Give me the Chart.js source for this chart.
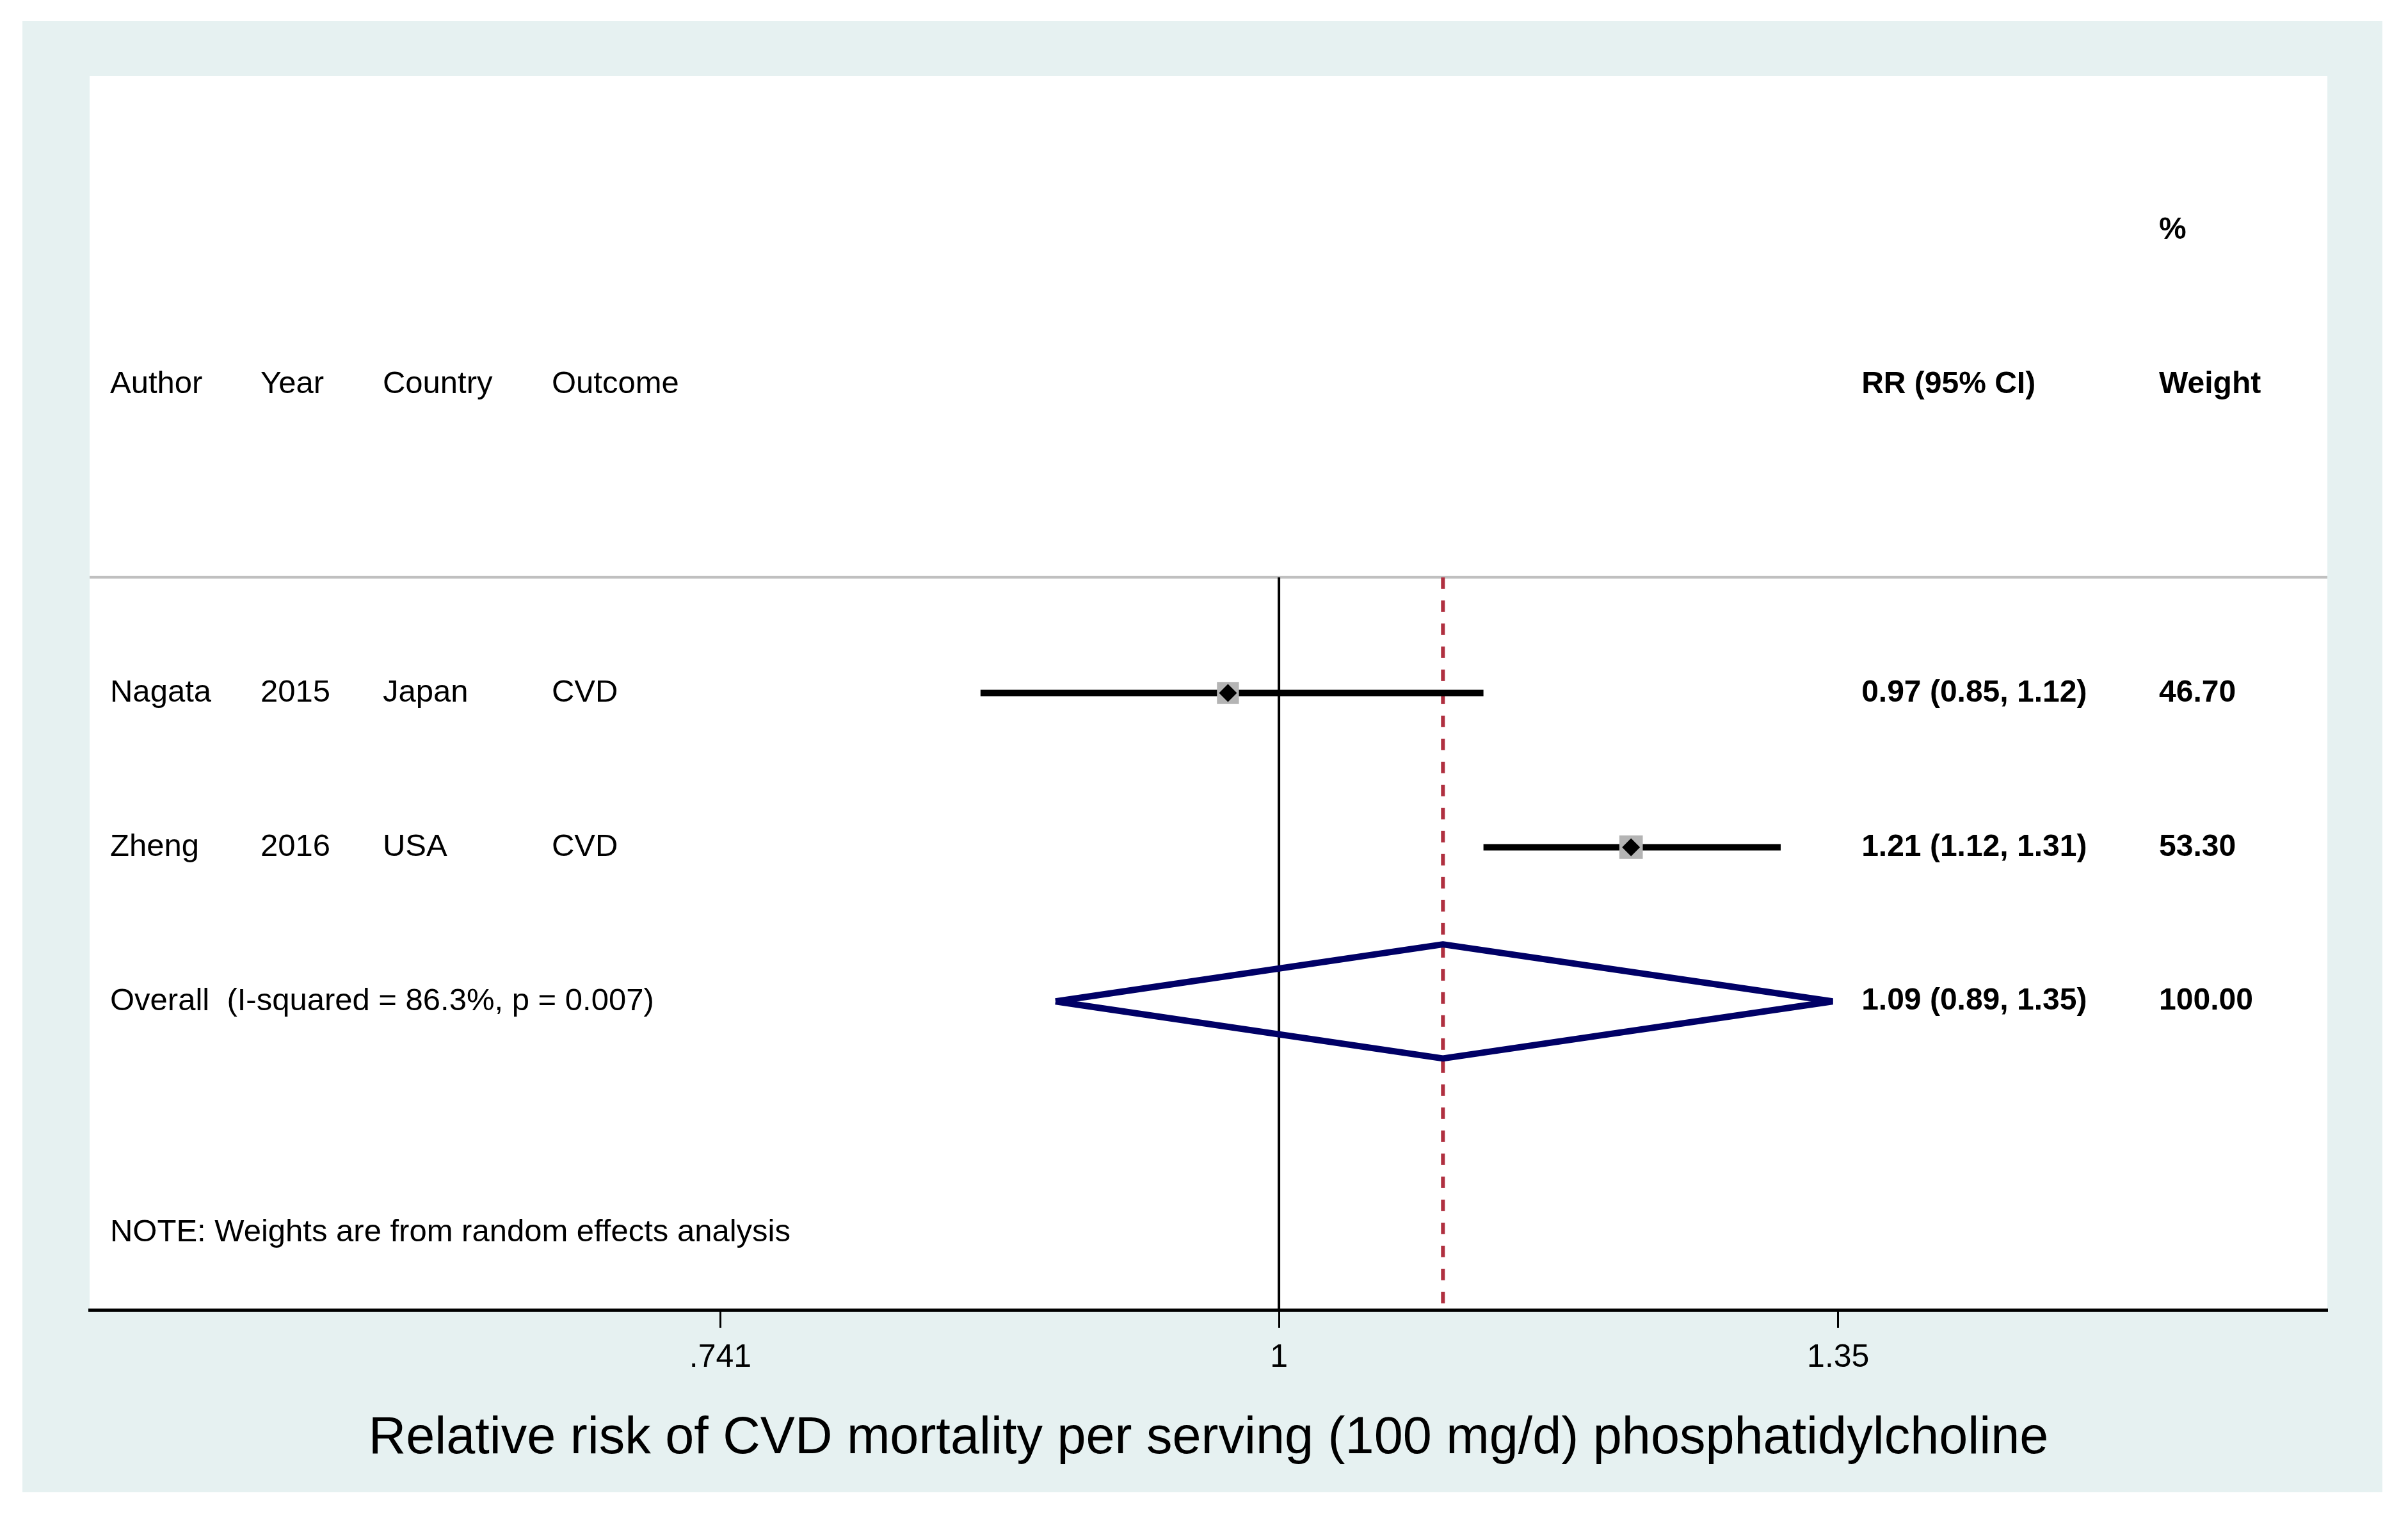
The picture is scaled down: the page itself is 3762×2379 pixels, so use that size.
<!DOCTYPE html>
<html><head><meta charset="utf-8">
<script src="https://cdn.jsdelivr.net/npm/chart.js@4.4.1/dist/chart.umd.min.js"></script>
<style>html,body{margin:0;padding:0;background:#fff;}canvas{display:block;}</style>
</head><body>
<canvas id="c" width="3762" height="2379"></canvas>
<script>
// ---- data ----
const authors = ['Nagata', 'Zheng'];
const years = ['2015', '2016'];
const countries = ['Japan', 'USA'];
const outcomes = ['CVD', 'CVD'];
const rr = [0.973, 1.208];
const lower = [0.852, 1.116];
const upper = [1.116, 1.309];
const weights = [46.70, 53.30];
const overallLabel = 'Overall  (I-squared = 86.3%, p = 0.007)';
const overallRR = 1.092;
const overallLower = 0.887;
const overallUpper = 1.346;
const overallWeight = 100.00;
const headers = ['Author', 'Year', 'Country', 'Outcome'];
const rrHeader = 'RR (95% CI)';
const weightHeader = ['%', 'Weight'];
const tickValues = [0.741, 1, 1.35];
const tickLabels = ['.741', '1', '1.35'];
const noteText = 'NOTE: Weights are from random effects analysis';
const xTitle = 'Relative risk of CVD mortality per serving (100 mg/d) phosphatidylcholine';

// ---- layout / style ----
const XMIN = 0.5282, XMAX = 1.7553;
const SEP_Y = 0.25, BOTTOM_Y = 5;
const n = authors.length;
const overallRow = n + 1;
const colFrac = {author: 0.00915, year: 0.0764, country: 0.131, outcome: 0.2065, rr: 0.7918, weight: 0.9248};
const FONT = '"Liberation Sans", Arial, sans-serif';
const fmt = v => v.toFixed(2);

const datasets = [];
datasets.push({label: 'sep', data: [{x: XMIN, y: SEP_Y}, {x: XMAX, y: SEP_Y}], showLine: true,
  borderColor: '#c0c0c0', borderWidth: 4, pointRadius: 0, order: 20});
datasets.push({label: 'null', data: [{x: 1, y: SEP_Y}, {x: 1, y: BOTTOM_Y}], showLine: true,
  borderColor: '#000000', borderWidth: 4, pointRadius: 0, order: 19});
datasets.push({label: 'overallLine', data: [{x: overallRR, y: SEP_Y}, {x: overallRR, y: BOTTOM_Y}], showLine: true,
  borderColor: '#b03040', borderWidth: 6, borderDash: [18, 18], pointRadius: 0, order: 18});
authors.forEach((a, i) => {
  datasets.push({label: 'ci' + i, data: [{x: lower[i], y: i + 1}, {x: upper[i], y: i + 1}], showLine: true,
    borderColor: '#000000', borderWidth: 10, pointRadius: 0, order: 10});
});
const dh = 0.37;
datasets.push({label: 'diamond', data: [
  {x: overallLower, y: overallRow}, {x: overallRR, y: overallRow - dh},
  {x: overallUpper, y: overallRow}, {x: overallRR, y: overallRow + dh},
  {x: overallLower, y: overallRow}], showLine: true, fill: false,
  borderColor: '#000066', borderWidth: 10, borderJoinStyle: 'bevel', pointRadius: 0, order: 9});
datasets.push({label: 'boxes', data: rr.map((v, i) => ({x: v, y: i + 1})),
  pointStyle: 'rect', pointRadius: weights.map(w => 3.55 * Math.sqrt(w)),
  backgroundColor: '#b4b4b4', borderWidth: 0, order: 5});
datasets.push({label: 'points', data: rr.map((v, i) => ({x: v, y: i + 1})),
  pointStyle: 'rectRot', pointRadius: 14, backgroundColor: '#000000', borderWidth: 0, order: 4});

const bgPlugin = {
  id: 'bg',
  beforeDraw(chart) {
    const ctx = chart.ctx, a = chart.chartArea;
    ctx.save();
    ctx.fillStyle = '#e6f1f1';
    ctx.fillRect(35, 33, 3722 - 35, 2331 - 33);
    ctx.fillStyle = '#ffffff';
    ctx.fillRect(a.left, a.top, a.right - a.left, a.bottom - a.top);
    ctx.restore();
  }
};

const textPlugin = {
  id: 'tableText',
  afterDatasetsDraw(chart) {
    const ctx = chart.ctx, a = chart.chartArea, ys = chart.scales.y;
    const W = a.right - a.left;
    const cx = k => a.left + colFrac[k] * W;
    const py = v => ys.getPixelForValue(v);
    ctx.save();
    ctx.fillStyle = '#000000';
    ctx.textBaseline = 'middle';
    ctx.textAlign = 'left';
    const reg = '49px ' + FONT, bold = 'bold 48px ' + FONT;
    // headers
    ctx.font = reg;
    ['author', 'year', 'country', 'outcome'].forEach((k, j) => ctx.fillText(headers[j], cx(k), py(-1)));
    ctx.font = bold;
    ctx.fillText(rrHeader, cx('rr'), py(-1));
    ctx.fillText(weightHeader[0], cx('weight'), py(-2));
    ctx.fillText(weightHeader[1], cx('weight'), py(-1));
    // study rows
    authors.forEach((a0, i) => {
      const y = py(i + 1);
      ctx.font = reg;
      ctx.fillText(authors[i], cx('author'), y);
      ctx.fillText(years[i], cx('year'), y);
      ctx.fillText(countries[i], cx('country'), y);
      ctx.fillText(outcomes[i], cx('outcome'), y);
      ctx.font = bold;
      ctx.fillText(fmt(rr[i]) + ' (' + fmt(lower[i]) + ', ' + fmt(upper[i]) + ')', cx('rr'), y);
      ctx.fillText(fmt(weights[i]), cx('weight'), y);
    });
    // overall
    const yo = py(overallRow);
    ctx.font = reg;
    ctx.fillText(overallLabel, cx('author'), yo);
    ctx.font = bold;
    ctx.fillText(fmt(overallRR) + ' (' + fmt(overallLower) + ', ' + fmt(overallUpper) + ')', cx('rr'), yo);
    ctx.fillText(fmt(overallWeight), cx('weight'), yo);
    // note
    ctx.font = reg;
    ctx.fillText(noteText, cx('author'), py(4.5));
    ctx.restore();
  }
};

new Chart(document.getElementById('c'), {
  type: 'scatter',
  data: {datasets},
  options: {
    responsive: false,
    devicePixelRatio: 1,
    animation: false,
    layout: {padding: {left: 140, right: 126, top: 119, bottom: 0}},
    plugins: {legend: {display: false}, tooltip: {enabled: false}, title: {display: false}},
    elements: {line: {tension: 0}},
    scales: {
      x: {
        type: 'logarithmic',
        position: 'bottom',
        min: XMIN, max: XMAX,
        afterBuildTicks: s => { s.ticks = tickValues.map(v => ({value: v})); },
        afterFit: s => { s.height = 333; },
        ticks: {
          callback: (v, i) => tickLabels[i],
          color: '#000000',
          font: {family: FONT, size: 50},
          padding: 17,
          maxRotation: 0, autoSkip: false
        },
        grid: {display: true, drawOnChartArea: false, drawTicks: true, tickLength: 28, tickWidth: 3, tickColor: '#000000'},
        border: {display: true, color: '#000000', width: 5},
        title: {display: true, text: xTitle, color: '#000000',
          font: {family: FONT, size: 81}, padding: {top: 0, bottom: 83}}
      },
      y: {
        type: 'linear', reverse: true, min: -3, max: BOTTOM_Y, display: false
      }
    }
  },
  plugins: [bgPlugin, textPlugin]
});
</script>
</body></html>
